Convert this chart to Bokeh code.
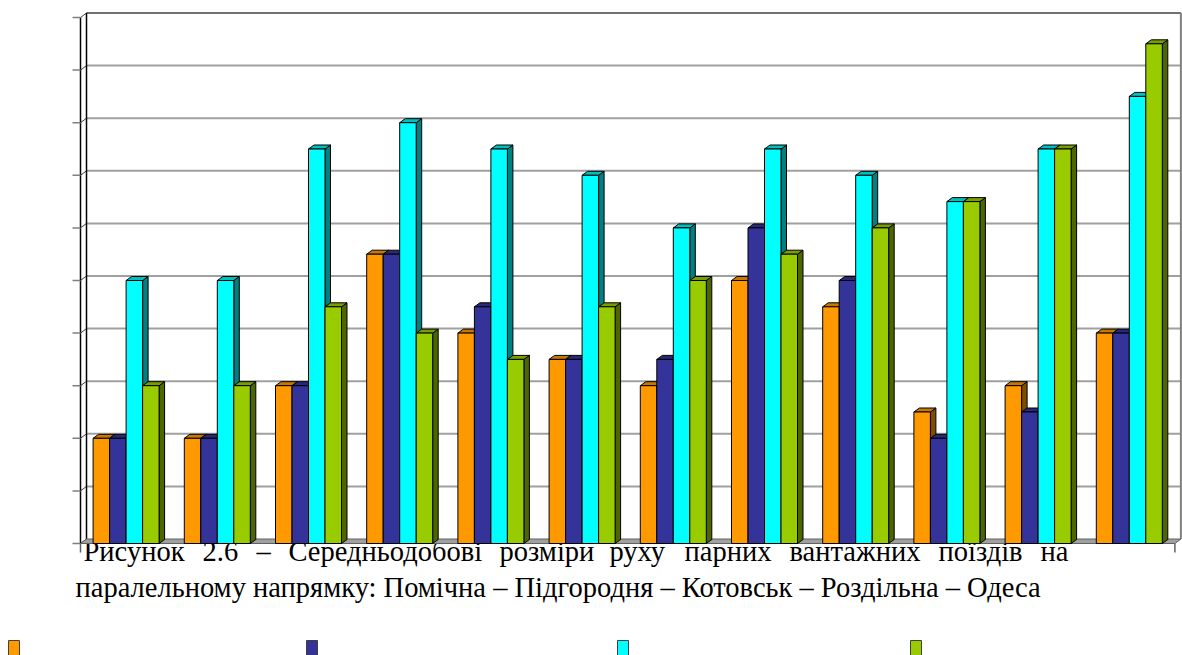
import numpy as np
from bokeh.plotting import figure
from bokeh.models import Range1d, ColumnDataSource
from bokeh.core.properties import value
from bokeh.embed import file_html
from bokeh.resources import INLINE

# ---------------- data ----------------
categories = [str(i) for i in range(1, 13)]
s_orange = [2, 2, 3, 5.5, 4, 3.5, 3, 5, 4.5, 2.5, 3, 4]
s_blue = [2, 2, 3, 5.5, 4.5, 3.5, 3.5, 6, 5, 2, 2.5, 4]
s_cyan = [5, 5, 7.5, 8, 7.5, 7, 6, 7.5, 7, 6.5, 7.5, 8.5]
s_green = [3, 3, 4.5, 4, 3.5, 4.5, 5, 5.5, 6, 6.5, 7.5, 9.5]
y_ticks = list(range(0, 11))
caption_line1 = "Рисунок 2.6 – Середньодобові розміри руху парних вантажних поїздів на"
caption_line2 = "паралельному напрямку: Помічна – Підгородня – Котовськ – Роздільна – Одеса"

series = [s_orange, s_blue, s_cyan, s_green]
face = ["#FF9900", "#333399", "#00FFFF", "#99CC00"]
topc = ["#C87800", "#29297A", "#00BFBF", "#7A9E00"]
side = ["#7F4C00", "#1A1A4D", "#008080", "#4C6600"]

# ---------------- geometry (pixels -> data) ----------------
W, H = 1182, 655
PAGE0 = 0
PX_X = 91.2          # pixels per category
PX_Y = 52.6          # pixels per value unit
X_FRONT = 80         # page x of category axis start (front plane)
Y_FRONT = 543        # page y of value 0 (front plane)

x_start = -0.5 - (X_FRONT - PAGE0) / PX_X
x_end = x_start + W / PX_X
y_end = (Y_FRONT - PAGE0) / PX_Y
y_start = y_end - H / PX_Y


def dx(px):
    return px / PX_X


def dy(px):
    return px / PX_Y


def xp(page_x):
    return x_start + (page_x - PAGE0) / PX_X


def yp(page_y):
    return y_end - (page_y - PAGE0) / PX_Y


BW = dx(16.5)
DXB, DYB = dx(5.5), dy(4.0)      # bar depth
DXW, DYW = dx(6.0), dy(4.5)      # wall depth
n = len(categories)
X_LEFT, X_RIGHT = -0.5, n - 0.5

p = figure(width=W, height=H, x_range=Range1d(x_start, x_end),
           y_range=Range1d(y_start, y_end), output_backend="svg",
           toolbar_location=None, x_axis_location=None, y_axis_location=None,
           min_border=0, outline_line_color=None,
           background_fill_color="white", border_fill_color="white")
p.xgrid.visible = False
p.ygrid.visible = False

# caption (behind the chart); first line is justified, so its words are spread
words1 = caption_line1.split(" ")
word_x1 = [83, 202, 256, 288, 499, 609, 684, 789, 938, 1040]
FONT = value("Liberation Serif")
p.text(x=[xp(v) for v in word_x1], y=[yp(551)] * len(words1), text=words1,
       text_font=FONT, text_font_size="28.5px",
       text_baseline="alphabetic", text_align="left", text_color="black")
p.text(x=[xp(75)], y=[yp(587)], text=[caption_line2],
       text_font=FONT, text_font_size="28.5px",
       text_baseline="alphabetic", text_align="left", text_color="black")

# back wall gridlines
gl = [t for t in y_ticks if 0 < t < max(y_ticks)]
p.segment(x0=[X_LEFT + DXW] * len(gl), y0=[t + DYW for t in gl],
          x1=[X_RIGHT + DXW] * len(gl), y1=[t + DYW for t in gl],
          line_color="#A0A0A0", line_width=2)
top = max(y_ticks)
p.segment(x0=[X_LEFT + DXW], y0=[top + DYW], x1=[X_RIGHT + DXW], y1=[top + DYW],
          line_color="#707070", line_width=2)
p.segment(x0=[X_RIGHT + DXW], y0=[DYW], x1=[X_RIGHT + DXW], y1=[top + DYW],
          line_color="#808080", line_width=2)

# left side wall: diagonals + two vertical lines
p.segment(x0=[X_LEFT] * len(y_ticks), y0=y_ticks,
          x1=[X_LEFT + DXW] * len(y_ticks), y1=[t + DYW for t in y_ticks],
          line_color="#404040", line_width=1)
p.segment(x0=[X_LEFT, X_LEFT + DXW], y0=[0, DYW],
          x1=[X_LEFT, X_LEFT + DXW], y1=[top, top + DYW],
          line_color="black", line_width=1.5)
# value-axis ticks (front plane)
p.segment(x0=[X_LEFT - dx(8)] * len(y_ticks), y0=y_ticks,
          x1=[X_LEFT] * len(y_ticks), y1=y_ticks,
          line_color="#808080", line_width=1.5)
# category-axis end ticks
p.segment(x0=[X_LEFT, X_RIGHT], y0=[0, 0], x1=[X_LEFT, X_RIGHT], y1=[-dy(9), -dy(9)],
          line_color="#606060", line_width=1.5)

# floor
p.patch(x=[X_LEFT, X_RIGHT, X_RIGHT + DXW, X_LEFT + DXW],
        y=[0, 0, DYW, DYW], fill_color="#A0A0A0",
        line_color="#606060", line_width=1)

# 3D bars: side and top faces (painter's order, left to right)
xs, ys, cols = [], [], []
for g in range(n):
    for s, vals in enumerate(series):
        h = vals[g]
        xl = g + (s - 2) * BW
        xr = xl + BW
        xs.append([xr, xr + DXB, xr + DXB, xr])
        ys.append([0, DYB, h + DYB, h])
        cols.append(side[s])
        xs.append([xl, xl + DXB, xr + DXB, xr])
        ys.append([h, h + DYB, h + DYB, h])
        cols.append(topc[s])
p.patches(xs=xs, ys=ys, fill_color=cols, line_color="black", line_width=1)

# front faces
gx = np.arange(n)
for s, vals in enumerate(series):
    src = ColumnDataSource(dict(x=gx + (s - 1.5) * BW, top=vals))
    p.vbar(x="x", top="top", bottom=0, width=BW, source=src,
           fill_color=face[s], line_color="black", line_width=1)

# legend keys (labels absent in the source)
leg_x = [8, 306, 617, 910]
p.quad(left=[xp(v) for v in leg_x], right=[xp(v + 11) for v in leg_x],
       top=[yp(640)] * 4, bottom=[yp(662)] * 4,
       fill_color=face, line_color="#404040", line_width=1)

open("out.html", "w").write(file_html(p, INLINE))
